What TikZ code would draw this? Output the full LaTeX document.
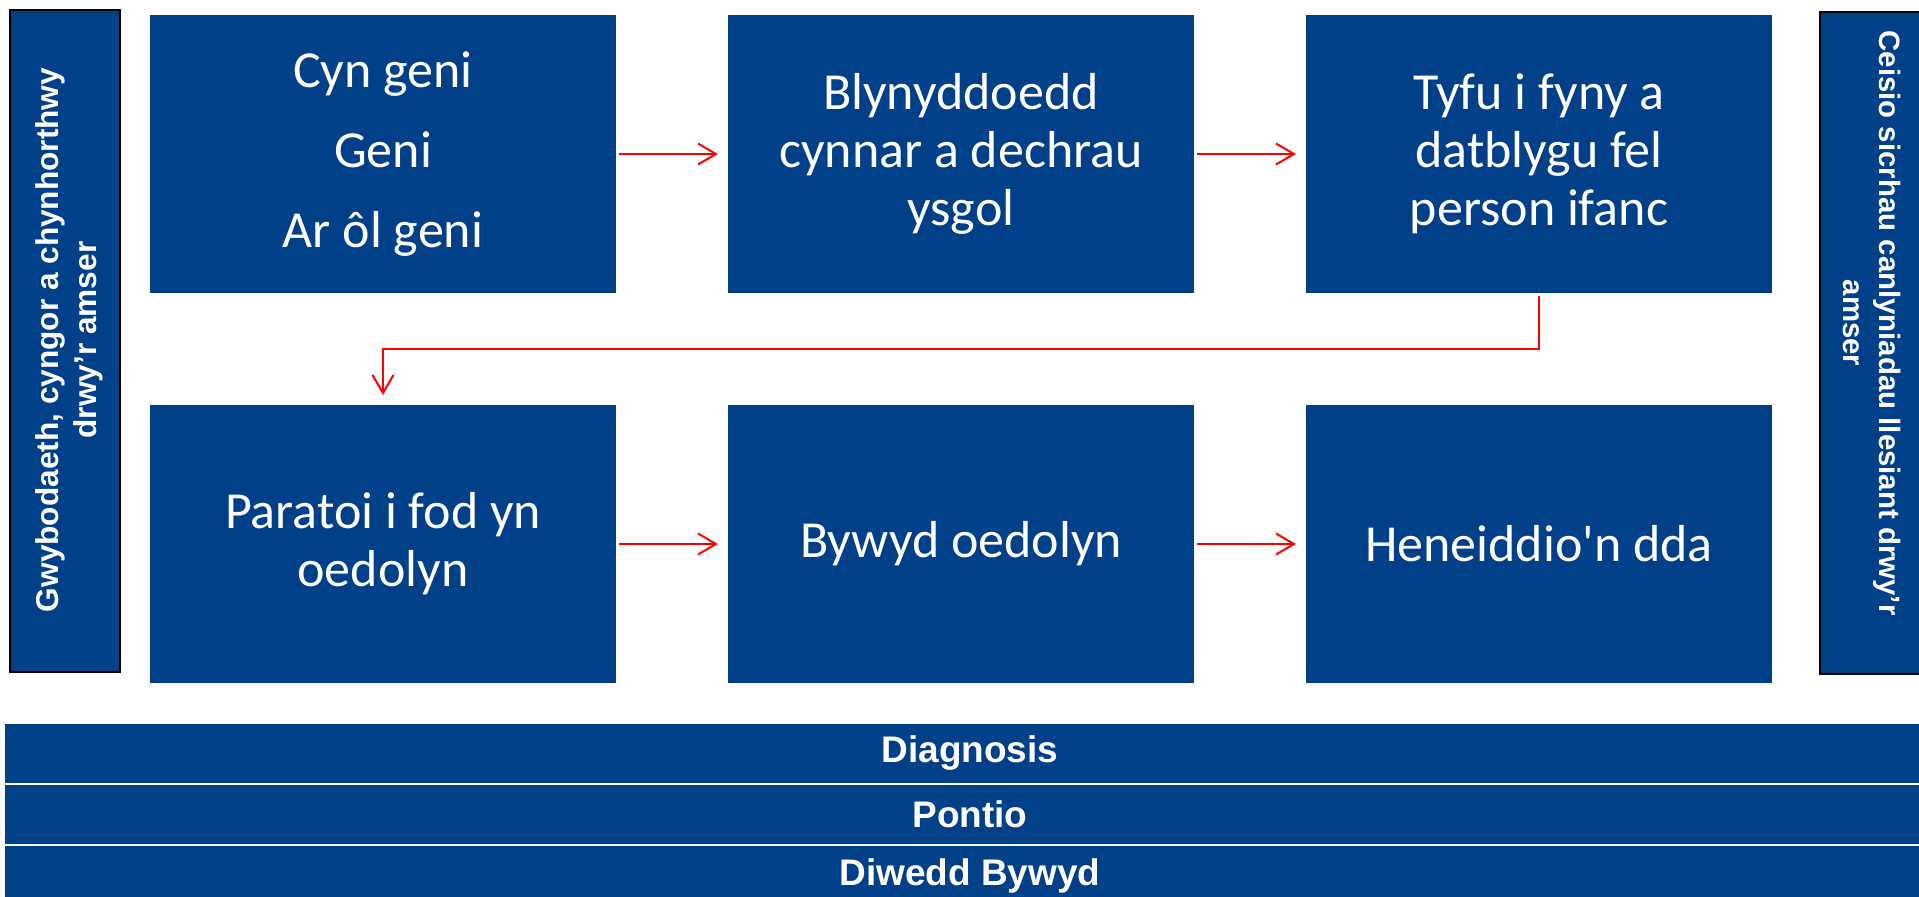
\documentclass[tikz,border=0pt]{standalone}
\usepackage{fontspec}
\setmainfont{Carlito}
\newfontfamily\arialfont{Liberation Sans}
\usetikzlibrary{arrows.meta,positioning}
\definecolor{stageblue}{RGB}{0,64,136}

\begin{document}
\begin{tikzpicture}[
    x=0.5pt, y=-0.5pt,
    node distance=56pt,
    stage node/.style={rectangle,fill=stageblue,text=white,minimum width=233pt,minimum height=139pt,inner sep=0pt,outer sep=0pt,align=center,font=\fontsize{26}{29}\selectfont},
    side node/.style={rectangle,fill=stageblue,draw=black,line width=0.6pt,inner sep=0pt,outer sep=0pt},
    side label/.style={text=white,align=center,inner sep=0pt,font=\arialfont\bfseries\fontsize{15.8}{19}\selectfont},
    band node/.style={rectangle,fill=stageblue,text=white,minimum width=965pt,minimum height=29.5pt,inner sep=0pt,outer sep=0pt,font=\arialfont\bfseries\fontsize{18.5}{22}\selectfont},
    flow/.style={draw=red,line width=1pt,-{Straight Barb[length=9pt,width=10.5pt]},shorten <=1.5pt,shorten >=5pt}]

  \useasboundingbox (0,0) rectangle (1919,896);

  % stages of life
  \node[stage node] (CynGeni) at (383,154) {Cyn geni\\[11pt]Geni\\[11pt]Ar ôl geni};
  \node[stage node] (Blynyddoedd) [right=of CynGeni] {Blynyddoedd\\cynnar a dechrau\\ysgol};
  \node[stage node] (Tyfu) [right=of Blynyddoedd] {Tyfu i fyny a\\datblygu fel\\person ifanc};
  \node[stage node] (Paratoi) [below=of CynGeni] {Paratoi i fod yn\\oedolyn};
  \node[stage node] (Bywyd) [right=of Paratoi] {Bywyd oedolyn};
  \node[stage node] (Heneiddio) [right=of Bywyd] {Heneiddio\textquotesingle n dda};

  % side panels
  \node[side node, minimum width=55pt, minimum height=331pt] (Gwybodaeth) at (65,341) {};
  \node[side label, rotate=90] (GwybodaethLabel) at (69,340) {Gwybodaeth, cyngor a chynhorthwy\\drwy’r amser};
  \node[side node, minimum width=52pt, minimum height=331pt] (Ceisio) at (1872,343) {};
  \node[side label, rotate=-90, font=\arialfont\bfseries\fontsize{14.7}{18}\selectfont] (CeisioLabel) at (1872,323) {Ceisio sicrhau canlyniadau llesiant drwy’r\\amser};

  % bands along the bottom
  \node[band node] (Diagnosis) at (970,753.5) {Diagnosis};
  \node[band node] (Pontio) [below=1pt of Diagnosis] {Pontio};
  \node[band node] (DiweddBywyd) [below=1pt of Pontio] {Diwedd Bywyd};

  \path
    (CynGeni) edge[flow] (Blynyddoedd)
    (Blynyddoedd) edge[flow] (Tyfu)
    (Paratoi) edge[flow] (Bywyd)
    (Bywyd) edge[flow] (Heneiddio);
  \draw[flow] (Tyfu.south) -- ++(0,56) -| (Paratoi.north);

\end{tikzpicture}
\end{document}
